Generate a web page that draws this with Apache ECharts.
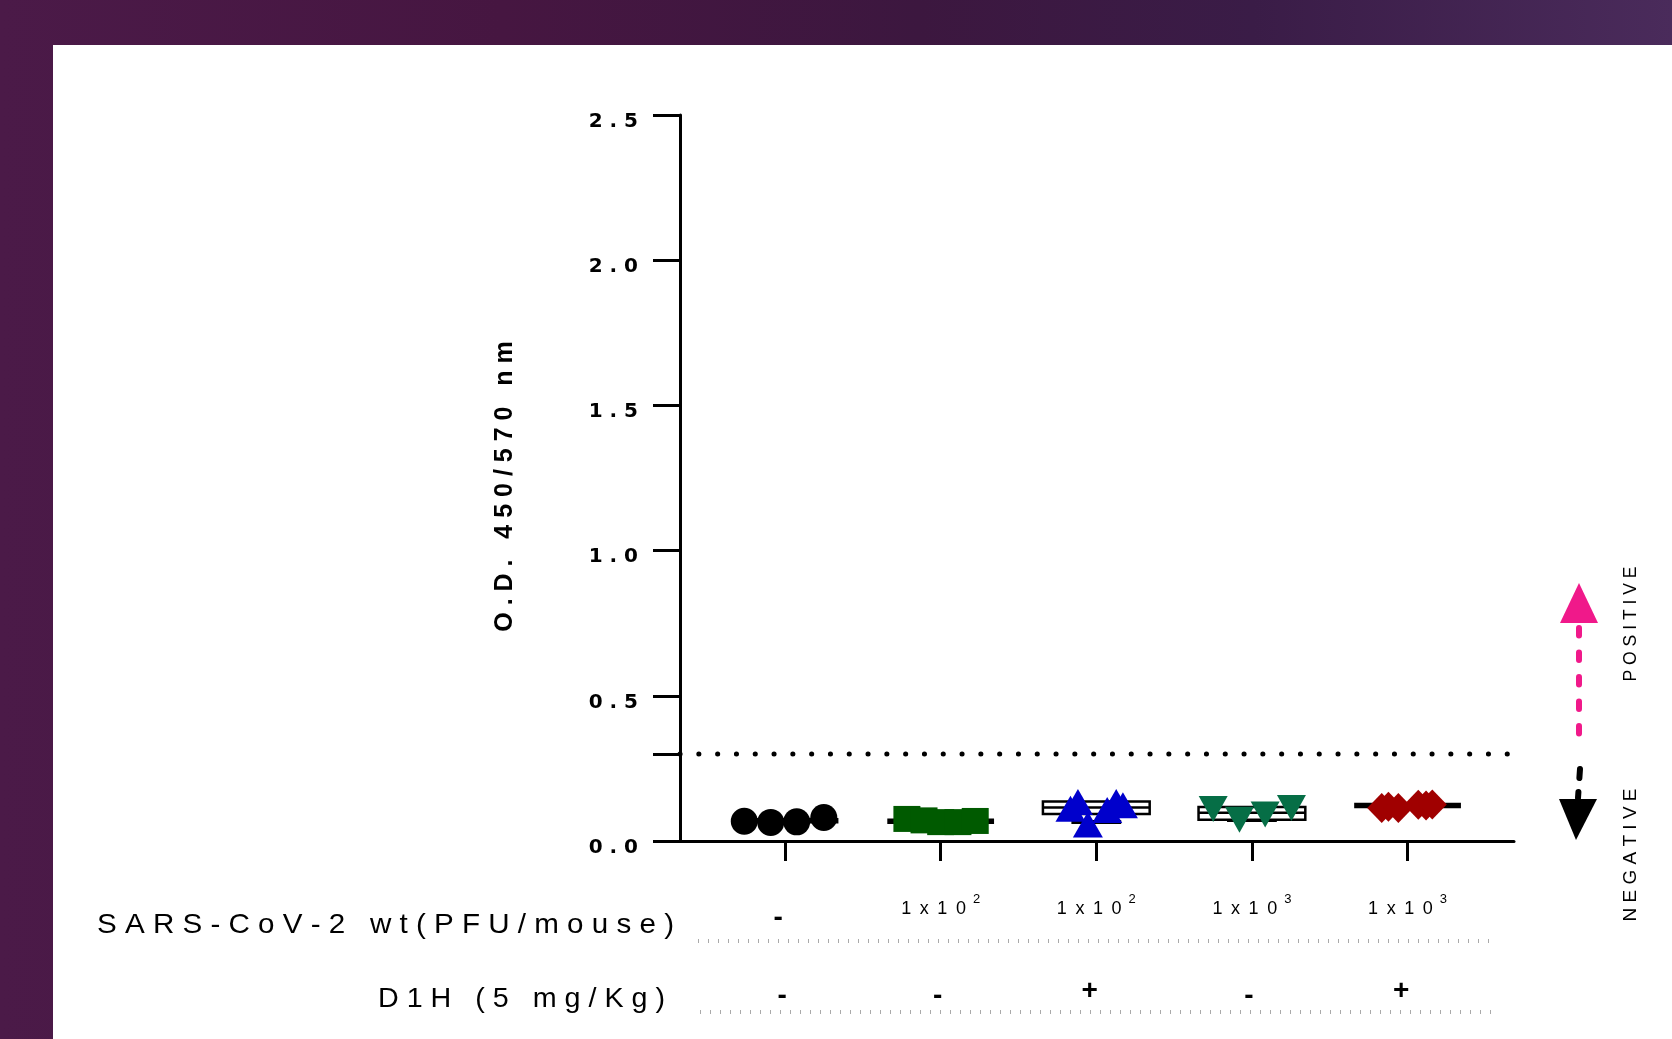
<!DOCTYPE html>
<html><head><meta charset="utf-8">
<script src="https://cdn.jsdelivr.net/npm/echarts@6/dist/echarts.min.js"></script>
<style>
html,body{margin:0;padding:0;width:1672px;height:1039px;overflow:hidden;}
body{background:linear-gradient(90deg,#4b1a48 0%,#461641 30%,#3c173f 55%,#3a1c47 75%,#4a2b5b 100%);}
#paper{position:absolute;left:53px;top:45px;right:0;bottom:0;background:#fff;}
#chart{position:absolute;left:0;top:0;width:1672px;height:1039px;}
</style></head><body>
<div id="paper"></div><div id="chart"></div>
<script>
// ---- data ----
const groups = [1, 2, 3, 4, 5];
const virusDose = ['-', '1x10^2', '1x10^2', '1x10^3', '1x10^3'];
const d1hDose = ['-', '-', '+', '-', '+'];
const yTicks = [0, 0.5, 1.0, 1.5, 2.0, 2.5];
const yTickMarks = [0, 0.3, 0.5, 1.0, 1.5, 2.0, 2.5];
const cutoff = 0.3;
const rowTitles = ['S A R S - C o V - 2   w t ( P F U / m o u s e )', 'D 1 H   ( 5   m g / K g )'];
const yTitle = 'O . D .   4 5 0 / 5 7 0   n m';

const mockJitter = [-0.262, -0.092, 0.075, 0.249];
const mockOD = [0.068, 0.064, 0.066, 0.081];
const v2Jitter = [-0.217, -0.107, 0, 0.111, 0.222];
const v2OD = [0.076, 0.071, 0.065, 0.065, 0.069];
const v2D1hJitter = [-0.166, -0.118, -0.054, 0.070, 0.128, 0.171];
const v2D1hOD = [0.111, 0.134, 0.057, 0.107, 0.134, 0.123];
const v3Jitter = [-0.249, -0.080, 0.085, 0.254];
const v3OD = [0.110, 0.073, 0.091, 0.114];
const v3D1hJitter = [-0.166, -0.123, -0.059, 0.069, 0.119, 0.159];
const v3D1hOD = [0.114, 0.118, 0.114, 0.125, 0.122, 0.126];

const meanOD = [0.070, 0.068, 0.115, 0.097, 0.122];
const semLow = [null, null, 0.093, 0.073, null];
const semHigh = [null, null, 0.136, 0.117, null];
const lowCap = [null, null, 0.065, 0.072, null];

// ---- chart ----
const X_MIN = 0.325, X_MAX = 5.684;
const BAR_HALF = 0.343, CAP_HALF = 0.16;
const sans = "'Liberation Sans',Arial,sans-serif";
const wide = "'DejaVu Sans',Verdana,sans-serif";

function pts(g, jit, vals) { return vals.map((v, i) => [g + jit[i], v]); }

// fit a text string to a target width by horizontal scaling (condensed, tracked type)
const measureCtx = document.createElement('canvas').getContext('2d');
function fitScale(text, font, target) {
  measureCtx.font = font;
  return target / measureCtx.measureText(text).width;
}
const titleFont = '28px ' + sans;

const scatterDefs = [
  {name: 'mock', data: pts(1, mockJitter, mockOD), symbol: 'circle', size: 27, color: '#000000'},
  {name: 'v2', data: pts(2, v2Jitter, v2OD), symbol: 'rect', size: [27, 26], color: '#005a00'},
  {name: 'v2d1h', data: pts(3, v2D1hJitter, v2D1hOD), symbol: 'triangle', size: [30, 26], color: '#0000cc'},
  {name: 'v3', data: pts(4, v3Jitter, v3OD), symbol: 'triangle', size: [29, 26], color: '#066e46', rotate: 180},
  {name: 'v3d1h', data: pts(5, v3D1hJitter, v3D1hOD), symbol: 'diamond', size: [29, 30], color: '#a00000'}
];

const summaryData = groups.map((g, i) => [g, meanOD[i],
  semLow[i] == null ? '-' : semLow[i], semHigh[i] == null ? '-' : semHigh[i],
  lowCap[i] == null ? '-' : lowCap[i]]);

const series = [{
  type: 'custom', z: 1, silent: true,
  data: summaryData,
  renderItem: function (params, api) {
    const x = api.value(0), m = api.value(1), lo = api.value(2), hi = api.value(3), cap = api.value(4);
    const ch = [];
    if (!isNaN(cap)) {
      const a = api.coord([x - CAP_HALF, cap]), b = api.coord([x + CAP_HALF, cap]);
      ch.push({type: 'line', shape: {x1: a[0], y1: a[1], x2: b[0], y2: b[1]}, style: {stroke: '#000', lineWidth: 4}});
    }
    if (!isNaN(lo) && !isNaN(hi)) {
      const tl = api.coord([x - BAR_HALF, hi]), br = api.coord([x + BAR_HALF, lo]);
      ch.push({type: 'rect', shape: {x: tl[0], y: tl[1], width: br[0] - tl[0], height: br[1] - tl[1]},
        style: {fill: '#fff', stroke: '#000', lineWidth: 2.5}});
      const a = api.coord([x - BAR_HALF, m]), b = api.coord([x + BAR_HALF, m]);
      ch.push({type: 'line', shape: {x1: a[0], y1: a[1], x2: b[0], y2: b[1]}, style: {stroke: '#000', lineWidth: 2.5}});
    } else {
      const a = api.coord([x - BAR_HALF, m]), b = api.coord([x + BAR_HALF, m]);
      ch.push({type: 'line', shape: {x1: a[0], y1: a[1], x2: b[0], y2: b[1]}, style: {stroke: '#000', lineWidth: 5.5}});
    }
    return {type: 'group', children: ch};
  }
}, {
  type: 'line', z: 1, silent: true, symbol: 'none',
  data: [[X_MIN, cutoff], [X_MAX - 0.03, cutoff]],
  lineStyle: {color: '#000', width: 5, type: [0.1, 18.7], cap: 'round'}
}];

scatterDefs.forEach(d => series.push({
  type: 'scatter', name: d.name, z: 3, silent: true,
  data: d.data, symbol: d.symbol, symbolSize: d.size, symbolRotate: d.rotate || 0,
  itemStyle: {color: d.color, opacity: 1}
}));

const option = {
  animation: false,
  backgroundColor: 'transparent',
  grid: {left: 680, top: 115, width: 834, height: 726, containLabel: false},
  xAxis: [{
    type: 'value', min: X_MIN, max: X_MAX, position: 'bottom',
    splitLine: {show: false},
    axisLine: {show: true, onZero: false, lineStyle: {color: '#000', width: 3}},
    axisTick: {show: true, inside: false, length: 20, lineStyle: {color: '#000', width: 3}, customValues: groups},
    axisLabel: {
      customValues: groups, margin: 62, verticalAlign: 'middle', color: '#000',
      formatter: function (v) {
        const s = virusDose[Math.round(v) - 1];
        if (s === '-') return '{m|-}';
        const p = s.split('^');
        return '{n|' + p[0].split('').join(' \u2009') + '}{s|' + p[1] + '}';
      },
      rich: {
        n: {fontFamily: sans, fontSize: 18, color: '#000', padding: [12, 0, 0, 0]},
        s: {fontFamily: sans, fontSize: 13, color: '#000', padding: [0, 0, 8, 7]},
        m: {fontFamily: sans, fontSize: 28, fontWeight: 'bold', color: '#000', padding: [30, 14, 0, 0]}
      }
    }
  }, {
    type: 'value', min: X_MIN, max: X_MAX, position: 'bottom', gridIndex: 0,
    splitLine: {show: false}, axisLine: {show: false}, axisTick: {show: false},
    axisLabel: {
      customValues: groups, margin: 148, verticalAlign: 'middle', color: '#000',
      formatter: function (v) {
        const s = d1hDose[Math.round(v) - 1];
        return s === '+' ? '{p|+}' : '{mi|-}';
      },
      rich: {
        p: {fontFamily: sans, fontSize: 28, fontWeight: 'bold', color: '#000', padding: [4, 13, 0, 0]},
        mi: {fontFamily: sans, fontSize: 28, fontWeight: 'bold', color: '#000', padding: [15, 6, 0, 0]}
      }
    }
  }],
  yAxis: {
    type: 'value', min: 0, max: 2.5, interval: 0.5,
    splitLine: {show: false},
    name: yTitle, nameLocation: 'middle', nameGap: 162,
    nameTextStyle: {fontFamily: sans, fontSize: 25, fontWeight: 'bold', color: '#000', padding: [0, 17, 0, 0]},
    axisLine: {show: true, lineStyle: {color: '#000', width: 3}},
    axisTick: {show: true, inside: false, length: 27, lineStyle: {color: '#000', width: 3}, customValues: yTickMarks},
    axisLabel: {
      customValues: yTicks, margin: 42, color: '#000',
      formatter: function (v) { return '{t|' + v.toFixed(1).split('').join(' ') + '}'; },
      rich: {t: {fontFamily: wide, fontSize: 20, fontWeight: 'bold', color: '#000', padding: [13, 0, 0, 0]}}
    }
  },
  series: series,
  graphic: [
    {type: 'text', x: 674, y: 925, scaleX: fitScale(rowTitles[0], titleFont, 577),
      style: {text: rowTitles[0], font: titleFont, fill: '#000', align: 'right', verticalAlign: 'middle'}},
    {type: 'text', x: 665, y: 999, scaleX: fitScale(rowTitles[1], titleFont, 287),
      style: {text: rowTitles[1], font: titleFont, fill: '#000', align: 'right', verticalAlign: 'middle'}},
    {type: 'line', shape: {x1: 698, y1: 941, x2: 1496, y2: 941}, style: {stroke: '#aaa', lineWidth: 4, lineDash: [1, 9]}},
    {type: 'line', shape: {x1: 700, y1: 1012, x2: 1499, y2: 1012}, style: {stroke: '#aaa', lineWidth: 4, lineDash: [1, 9]}},
    {type: 'polygon', shape: {points: [[1579, 583], [1560, 623], [1598, 623]]}, style: {fill: '#f0198a'}},
    {type: 'line', shape: {x1: 1579, y1: 628, x2: 1579, y2: 746}, style: {stroke: '#f0198a', lineWidth: 6, lineDash: [7.5, 17], lineCap: 'round'}},
    {type: 'line', shape: {x1: 1580, y1: 769, x2: 1578, y2: 798}, style: {stroke: '#000', lineWidth: 6, lineDash: [9, 14], lineCap: 'round'}},
    {type: 'polygon', shape: {points: [[1559, 799], [1597, 799], [1576, 840]]}, style: {fill: '#000'}},
    {type: 'text', x: 1631, y: 624, rotation: Math.PI / 2, scaleX: fitScale('P O S I T I V E', '19px ' + sans, 115),
      style: {text: 'P O S I T I V E', font: '19px ' + sans, fill: '#000', align: 'center', verticalAlign: 'middle'}},
    {type: 'text', x: 1631, y: 855, rotation: Math.PI / 2, scaleX: fitScale('N E G A T I V E', '19px ' + sans, 133),
      style: {text: 'N E G A T I V E', font: '19px ' + sans, fill: '#000', align: 'center', verticalAlign: 'middle'}}
  ]
};

const chart = echarts.init(document.getElementById('chart'), null, {renderer: 'canvas'});
chart.setOption(option);
</script>
</body></html>
